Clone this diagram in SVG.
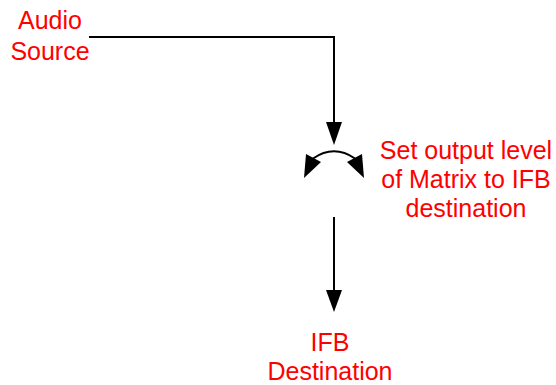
<svg xmlns="http://www.w3.org/2000/svg" width="556" height="385" viewBox="0 0 556 385">
<style>
.lbl{font-family:"Liberation Sans",Arial,sans-serif;font-size:25px;fill:#ff0000;text-anchor:middle}
.ln{stroke:#000;stroke-width:2;fill:none}
.ah{fill:#000;stroke:none}
</style>
<rect width="556" height="385" fill="#fff"/>
<g id="connectors">
<path class="ln" d="M89 37 H334 V124"/>
<polygon class="ah" points="334,145 326,122 342,122"/>
<path class="ln" d="M334 217 V292"/>
<polygon class="ah" points="334,312 326,290 342,290"/>
<path class="ln" d="M313 158.5 Q334 144 355 158.5"/>
<polygon class="ah" points="304,178 306,154 321,162"/>
<polygon class="ah" points="364,178 362,154 347,162"/>
</g>
<g id="audio-source">
<text class="lbl" x="50" y="29">Audio</text>
<text class="lbl" x="50" y="60">Source</text>
</g>
<g id="set-output-level">
<text class="lbl" x="466" y="159">Set output level</text>
<text class="lbl" x="466" y="188">of Matrix to IFB</text>
<text class="lbl" x="466" y="217">destination</text>
</g>
<g id="ifb-destination">
<text class="lbl" x="330" y="351">IFB</text>
<text class="lbl" x="330" y="380">Destination</text>
</g>
</svg>
